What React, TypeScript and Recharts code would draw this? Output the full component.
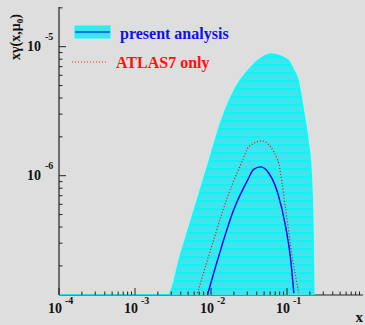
import { ComposedChart, Area, Line, XAxis, YAxis } from 'recharts'

// upper edge of the uncertainty band (fill goes down to the axis)
const bandX = [1e-4, 2.75e-3, 3.95e-3, 5.36e-3, 7.26e-3, 9.84e-3, 1.33e-2, 1.81e-2, 2.45e-2, 3.13e-2, 4.11e-2, 6.1e-2, 0.102, 0.122, 0.139, 0.161, 0.188, 0.206, 0.219, 0.225]
const bandY = [1.19e-7, 1.19e-7, 2.38e-7, 4.3e-7, 7.75e-7, 1.4e-6, 2.52e-6, 4.0e-6, 5.52e-6, 6.59e-6, 7.75e-6, 8.77e-6, 7.89e-6, 6.59e-6, 5.52e-6, 3.4e-6, 1.89e-6, 1.11e-6, 4.0e-7, 1.19e-7]

// present analysis, central value
const presentX = [9.0e-3, 1.22e-2, 1.98e-2, 3.03e-2, 3.64e-2, 4.5e-2, 5.74e-2, 7.55e-2, 9.62e-2, 0.112, 0.123]
const presentY = [1.19e-7, 2.22e-7, 5.41e-7, 9.25e-7, 1.12e-6, 1.17e-6, 1.05e-6, 7.35e-7, 4.0e-7, 2.22e-7, 1.23e-7]

// ATLAS7 only
const atlasX = [6.64e-3, 1.05e-2, 1.65e-2, 2.61e-2, 3.13e-2, 4.65e-2, 7.55e-2, 9.62e-2, 0.119, 0.143]
const atlasY = [1.23e-7, 3.0e-7, 6.84e-7, 1.32e-6, 1.67e-6, 1.86e-6, 1.32e-6, 5.41e-7, 2.22e-7, 1.23e-7]

const xTicks = [
  1e-4, 2e-4, 3e-4, 4e-4, 5e-4, 6e-4, 7e-4, 8e-4, 9e-4, 1e-3,
  2e-3, 3e-3, 4e-3, 5e-3, 6e-3, 7e-3, 8e-3, 9e-3, 1e-2,
  2e-2, 3e-2, 4e-2, 5e-2, 6e-2, 7e-2, 8e-2, 9e-2, 1e-1,
  0.2, 0.3, 0.4, 0.5, 0.6, 0.7, 0.8, 0.9,
]
const yTicks = [
  2e-7, 3e-7, 4e-7, 5e-7, 6e-7, 7e-7, 8e-7, 9e-7, 1e-6,
  2e-6, 3e-6, 4e-6, 5e-6, 6e-6, 7e-6, 8e-6, 9e-6, 1e-5, 2e-5,
]
const xDomain = [1e-4, 1]
const yDomain = [1.19e-7, 2.03e-5]

const pts = (xs: number[], ys: number[]) => xs.map((x, i) => ({ x, y: ys[i] }))
const band = pts(bandX, bandY)
const present = pts(presentX, presentY)
const atlas = pts(atlasX, atlasY)

const isMajor = (v: number) => {
  const e = Math.round(Math.log10(v))
  return Math.abs(v / Math.pow(10, e) - 1) < 1e-6
}

const serif = '"Liberation Serif", "DejaVu Serif", serif'

function XTick(props: any) {
  const { x, y, payload } = props
  const v = payload.value
  const major = isMajor(v)
  const e = Math.round(Math.log10(v))
  return (
    <g>
      <line x1={x} x2={x} y1={y} y2={y - (major ? 7 : 3.5)} stroke="#222" strokeWidth={1} />
      {major && v < 0.5 && (
        <text x={x - 11} y={y + 18} fontFamily={serif} fontWeight="bold" fontSize={14} fill="#111">
          10
          <tspan dx={3} dy={-9} fontSize={10}>{e}</tspan>
        </text>
      )}
    </g>
  )
}

function YTick(props: any) {
  const { x, y, payload } = props
  const v = payload.value
  const major = isMajor(v)
  const e = Math.round(Math.log10(v))
  return (
    <g>
      <line x1={x} x2={x + (major ? 7 : 3.5)} y1={y} y2={y} stroke="#222" strokeWidth={1} />
      {major && (
        <text x={x - 32} y={y + 4.5} fontFamily={serif} fontWeight="bold" fontSize={14} fill="#111">
          10
          <tspan dx={4} dy={-11} fontSize={10}>{e}</tspan>
        </text>
      )}
    </g>
  )
}

const hatch = (id: string) => (
  <pattern id={id} width={8} height={8} patternUnits="userSpaceOnUse">
    <rect width={8} height={8} fill="#3fe4ec" />
    <rect y={0} width={8} height={2} fill="#10f2f6" />
  </pattern>
)

export default function App() {
  return (
    <div style={{ position: 'absolute', left: 0, top: 0, width: 365, height: 325, background: '#dedede', fontFamily: serif }}>
      <ComposedChart width={365} height={325} margin={{ top: 7, right: 2, left: 0, bottom: 0 }}>
        <defs>{hatch('bandHatch')}</defs>
        <XAxis
          dataKey="x"
          type="number"
          scale="log"
          domain={xDomain}
          allowDataOverflow
          ticks={xTicks}
          interval={0}
          height={30}
          tickSize={0}
          tickMargin={0}
          tickLine={false}
          tick={<XTick />}
          axisLine={{ stroke: '#222', strokeWidth: 1.2 }}
        />
        <XAxis xAxisId="top" orientation="top" type="number" domain={xDomain} height={0} tick={false} tickLine={false} axisLine={{ stroke: '#333', strokeWidth: 1.2 }} />
        <YAxis
          dataKey="y"
          type="number"
          scale="log"
          domain={yDomain}
          allowDataOverflow
          ticks={yTicks}
          interval={0}
          width={59}
          tickSize={0}
          tickMargin={0}
          tickLine={false}
          tick={<YTick />}
          axisLine={{ stroke: '#222', strokeWidth: 1.2 }}
        />
        <YAxis yAxisId="right" orientation="right" type="number" domain={yDomain} width={0} tick={false} tickLine={false} axisLine={{ stroke: '#333', strokeWidth: 1.2 }} />
        <Area
          data={band}
          dataKey="y"
          type="monotone"
          baseValue="dataMin"
          stroke="#00ffff"
          strokeWidth={1.6}
          fill="url(#bandHatch)"
          fillOpacity={1}
          isAnimationActive={false}
          dot={false}
          activeDot={false}
          zIndex={550}
        />
        <Line data={atlas} dataKey="y" type="monotone" stroke="#ff0000" strokeWidth={1.2} strokeDasharray="1 2" dot={false} activeDot={false} isAnimationActive={false} zIndex={560} />
        <Line data={present} dataKey="y" type="monotone" stroke="#0000ff" strokeWidth={1.4} dot={false} activeDot={false} isAnimationActive={false} zIndex={570} />
      </ComposedChart>
      <svg width={365} height={325} style={{ position: 'absolute', left: 0, top: 0, pointerEvents: 'none' }}>
        <defs>{hatch('legendHatch')}</defs>
        {/* legend */}
        <rect x={75} y={26} width={35} height={12} fill="url(#legendHatch)" stroke="#00ffff" strokeWidth={1} />
        <line x1={75} x2={110} y1={32} y2={32} stroke="#0000cc" strokeWidth={1} />
        <text x={120} y={38.5} fontFamily={serif} fontWeight="bold" fontSize={16} fill="#1010ee">present analysis</text>
        <line x1={72} x2={107} y1={62} y2={62} stroke="#ff2020" strokeWidth={1} strokeDasharray="1 2" />
        <text x={116} y={68} fontFamily={serif} fontWeight="bold" fontSize={16} fill="#ff1010">ATLAS7 only</text>
        {/* axis titles */}
        <text transform="translate(20,60) rotate(-90)" fontFamily={serif} fontWeight="bold" fontSize={14} fill="#111">
          xγ(x,μ<tspan dy={3} fontSize={9}>0</tspan><tspan dy={-3}>)</tspan>
        </text>
        <text x={363} y={322} textAnchor="end" fontFamily={serif} fontWeight="bold" fontSize={15} fill="#111">x</text>
      </svg>
    </div>
  )
}
